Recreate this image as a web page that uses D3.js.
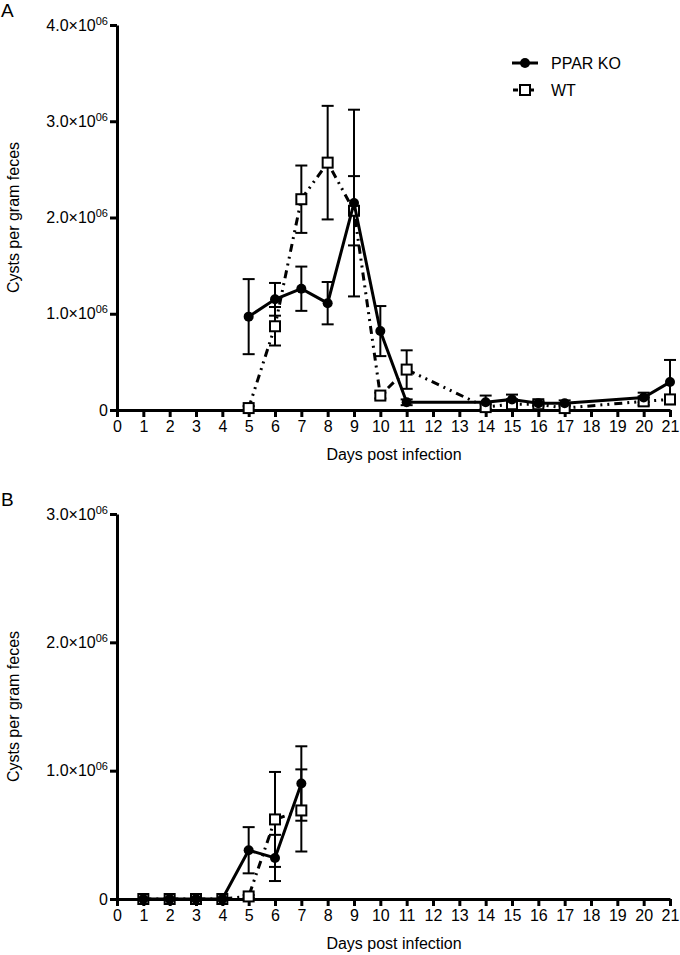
<!DOCTYPE html>
<html>
<head>
<meta charset="utf-8">
<script src="https://cdn.jsdelivr.net/npm/d3@7"></script>
<style>
  body { margin: 0; background: #fff; }
  svg { font-family: "Liberation Sans", Arial, sans-serif; }
</style>
</head>
<body>
<div id="chart"></div>
<script>
// Panel A data (cysts per gram feces, in millions)
const daysA = [5, 6, 7, 8, 9, 10, 11, 14, 15, 16, 17, 20, 21];
const koA = [0.97, 1.15, 1.26, 1.11, 2.15, 0.82, 0.08, 0.08, 0.11, 0.07, 0.07, 0.13, 0.29];
const koErrA = [0.39, 0.17, 0.23, 0.22, 0.97, 0.26, 0.03, 0.07, 0.05, 0.02, 0.03, 0.05, 0.23];
const wtA = [0.02, 0.87, 2.19, 2.57, 2.07, 0.15, 0.42, 0.03, 0.06, 0.06, 0.02, 0.09, 0.11];
const wtErrA = [0.02, 0.2, 0.35, 0.59, 0.36, 0.03, 0.2, 0.03, 0.03, 0.02, 0.03, 0.04, 0.03];

// Panel B data
const daysB = [1, 2, 3, 4, 5, 6, 7];
const koB = [0, 0, 0, 0, 0.38, 0.32, 0.90];
const koErrB = [0, 0, 0, 0, 0.18, 0.18, 0.29];
const wtB = [0, 0, 0, 0, 0.02, 0.62, 0.69];
const wtErrB = [0, 0, 0, 0, 0.01, 0.37, 0.32];

const xTicks = d3.range(0, 22);
const yTicksA = [0, 1, 2, 3, 4];
const yTicksB = [0, 1, 2, 3];
const seriesNames = ["PPAR KO", "WT"];
const SCALE = 1e6;

const svg = d3.select("#chart").append("svg")
  .attr("width", 680)
  .attr("height", 955);

function toPoints(days, vals, errs) {
  return days.map((d, i) => ({ day: d, v: vals[i] * SCALE, e: errs[i] * SCALE }));
}

function drawPanel(cfg) {
  const x = d3.scaleLinear().domain([0, 21]).range([117, 670]);
  const y = d3.scaleLinear().domain([0, cfg.yMax * SCALE]).range([cfg.bottom, cfg.top]);
  const g = svg.append("g");

  // x axis
  const xAxis = g.append("g")
    .attr("transform", `translate(0,${cfg.bottom})`)
    .call(d3.axisBottom(x).tickValues(xTicks).tickSize(7).tickSizeOuter(0).tickPadding(4));
  // y axis
  const yAxis = g.append("g")
    .attr("transform", `translate(117,0)`)
    .call(d3.axisLeft(y).tickValues(cfg.yTicks.map(t => t * SCALE)).tickSize(7).tickSizeOuter(0).tickPadding(2)
      .tickFormat(() => ""));

  [xAxis, yAxis].forEach(a => {
    a.select(".domain").attr("stroke", "#000").attr("stroke-width", 3);
    a.selectAll(".tick line").attr("stroke", "#000").attr("stroke-width", 3);
    a.selectAll(".tick text").attr("fill", "#000").style("font-size", "16px");
  });

  // y tick labels with superscript exponent
  yAxis.selectAll(".tick text").each(function (d) {
    const t = d3.select(this);
    const m = d / SCALE;
    if (m === 0) {
      t.text("0");
    } else {
      t.text(null);
      t.append("tspan").text(m.toFixed(1) + "\u00d710");
      t.append("tspan").attr("dy", "-0.55em").style("font-size", "11px").text("06");
    }
  });

  // axis titles
  g.append("text")
    .attr("x", 394)
    .attr("y", cfg.bottom + 50)
    .attr("text-anchor", "middle")
    .style("font-size", "16px")
    .text("Days post infection");
  g.append("text")
    .attr("transform", `translate(19,${(cfg.top + cfg.bottom) / 2}) rotate(-90)`)
    .attr("text-anchor", "middle")
    .style("font-size", "16px")
    .text("Cysts per gram feces");

  // panel letter
  g.append("text")
    .attr("x", 1)
    .attr("y", cfg.top - 8)
    .style("font-size", "19px")
    .text(cfg.letter);

  const line = d3.line().x(d => x(d.day)).y(d => y(d.v));

  const series = [
    { pts: cfg.wt, dash: "8,5,2,5,2,5", marker: "square" },
    { pts: cfg.ko, dash: null, marker: "circle" },
  ];

  series.forEach(s => {
    // error bars
    const eb = g.append("g");
    s.pts.forEach(p => {
      if (p.e <= 0) return;
      const cx = x(p.day);
      eb.append("line")
        .attr("x1", cx).attr("x2", cx)
        .attr("y1", y(p.v + p.e)).attr("y2", y(Math.max(0, p.v - p.e)))
        .attr("stroke", "#000").attr("stroke-width", 2);
      [p.v + p.e, Math.max(0, p.v - p.e)].forEach(val => {
        eb.append("line")
          .attr("x1", cx - 6).attr("x2", cx + 6)
          .attr("y1", y(val)).attr("y2", y(val))
          .attr("stroke", "#000").attr("stroke-width", 2);
      });
    });
  });

  series.forEach(s => {
    g.append("path")
      .datum(s.pts)
      .attr("d", line)
      .attr("fill", "none")
      .attr("stroke", "#000")
      .attr("stroke-width", 3)
      .attr("stroke-dasharray", s.dash);

    if (s.marker === "circle") {
      g.selectAll(null).data(s.pts).enter().append("circle")
        .attr("cx", d => x(d.day)).attr("cy", d => y(d.v))
        .attr("r", 5).attr("fill", "#000");
    } else {
      g.selectAll(null).data(s.pts).enter().append("rect")
        .attr("x", d => x(d.day) - 5).attr("y", d => y(d.v) - 5)
        .attr("width", 10).attr("height", 10)
        .attr("fill", "#fff").attr("stroke", "#000").attr("stroke-width", 2);
    }
  });

  if (cfg.legend) {
    const lg = g.append("g");
    // PPAR KO
    lg.append("line").attr("x1", 512).attr("x2", 538).attr("y1", 63).attr("y2", 63)
      .attr("stroke", "#000").attr("stroke-width", 3);
    lg.append("circle").attr("cx", 525).attr("cy", 63).attr("r", 5).attr("fill", "#000");
    lg.append("text").attr("x", 551).attr("y", 63).attr("dy", "0.35em")
      .style("font-size", "16px").text(seriesNames[0]);
    // WT
    lg.append("line").attr("x1", 513).attr("x2", 535).attr("y1", 90).attr("y2", 90)
      .attr("stroke", "#000").attr("stroke-width", 3).attr("stroke-dasharray", "5,3");
    lg.append("rect").attr("x", 520).attr("y", 85).attr("width", 10).attr("height", 10)
      .attr("fill", "#fff").attr("stroke", "#000").attr("stroke-width", 2);
    lg.append("text").attr("x", 551).attr("y", 90).attr("dy", "0.35em")
      .style("font-size", "16px").text(seriesNames[1]);
  }
}

drawPanel({
  letter: "A", top: 25, bottom: 410, yMax: 4, yTicks: yTicksA,
  ko: toPoints(daysA, koA, koErrA), wt: toPoints(daysA, wtA, wtErrA), legend: true
});
drawPanel({
  letter: "B", top: 514, bottom: 899, yMax: 3, yTicks: yTicksB,
  ko: toPoints(daysB, koB, koErrB), wt: toPoints(daysB, wtB, wtErrB), legend: false
});
</script>
</body>
</html>
